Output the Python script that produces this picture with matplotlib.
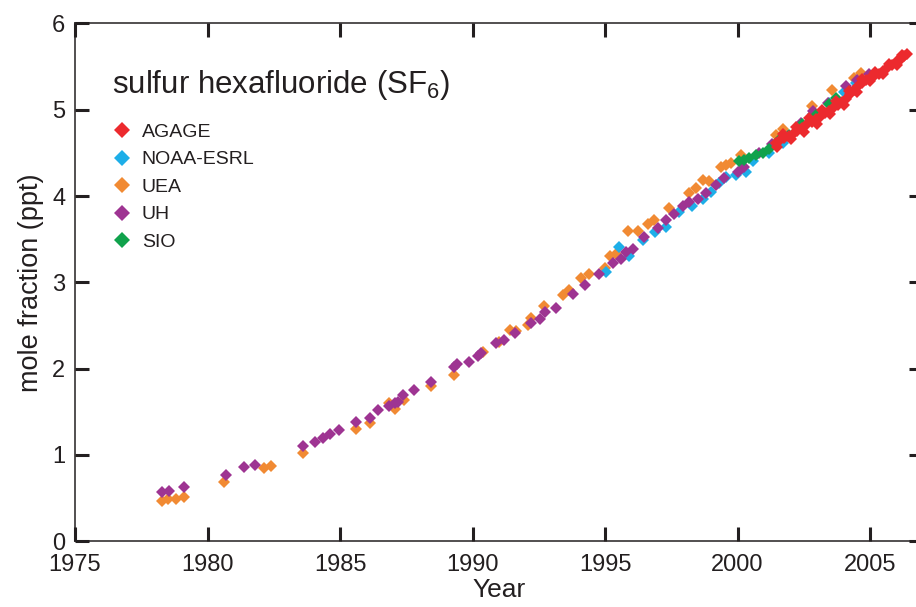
import numpy as np
import matplotlib
matplotlib.use("Agg")
from matplotlib import pyplot as plt
from matplotlib.lines import Line2D

plt.rcParams['font.family'] = ['Liberation Sans', 'DejaVu Sans']
plt.rcParams['mathtext.default'] = 'regular'

# data (year, mole fraction in ppt)
uh_year = [1978.27, 1978.55, 1979.12, 1980.70, 1981.38, 1981.80, 1983.61, 1984.05,
           1984.34, 1984.61, 1984.96, 1985.62, 1986.12, 1986.44, 1986.85, 1987.06,
           1987.19, 1987.38, 1987.79, 1988.44, 1989.29, 1989.41, 1989.86, 1990.20,
           1990.33, 1990.87, 1991.18, 1991.59, 1992.21, 1992.53, 1992.72, 1993.16,
           1993.78, 1994.26, 1994.79, 1995.29, 1995.60, 1995.80, 1996.04, 1996.48,
           1996.99, 1997.30, 1997.60, 1997.93, 1998.18, 1998.50, 1998.81, 1999.19,
           1999.50, 2000.00, 2000.25, 2000.82, 2001.30, 2001.90, 2002.40, 2002.83,
           2003.40, 2004.08, 2004.50, 2004.96]
uh_val = [0.57, 0.58, 0.63, 0.77, 0.86, 0.88, 1.10, 1.15,
          1.20, 1.24, 1.29, 1.38, 1.43, 1.52, 1.57, 1.60,
          1.61, 1.69, 1.75, 1.84, 2.02, 2.05, 2.08, 2.14,
          2.18, 2.29, 2.33, 2.41, 2.53, 2.57, 2.65, 2.70,
          2.86, 2.97, 3.10, 3.22, 3.27, 3.35, 3.39, 3.53,
          3.63, 3.72, 3.79, 3.88, 3.93, 3.97, 4.03, 4.13,
          4.21, 4.28, 4.34, 4.50, 4.60, 4.70, 4.85, 4.98,
          5.08, 5.27, 5.35, 5.42]

uea_year = [1978.27, 1978.52, 1978.81, 1979.12, 1980.62, 1982.14, 1982.39, 1983.61,
            1985.62, 1986.12, 1986.83, 1987.06, 1987.41, 1988.44, 1989.29, 1990.39,
            1990.99, 1991.40, 1991.65, 1992.09, 1992.21, 1992.68, 1993.43, 1993.63,
            1994.10, 1994.41, 1994.98, 1995.17, 1995.42, 1995.86, 1996.23, 1996.61,
            1996.86, 1997.43, 1998.18, 1998.43, 1998.68, 1998.94, 1999.37, 1999.56,
            1999.75, 2000.13, 2001.45, 2001.70, 2002.80, 2003.55, 2004.40, 2004.65]
uea_val = [0.46, 0.49, 0.49, 0.51, 0.68, 0.85, 0.87, 1.02,
           1.30, 1.37, 1.60, 1.53, 1.64, 1.80, 1.93, 2.19,
           2.31, 2.45, 2.43, 2.50, 2.58, 2.73, 2.85, 2.91,
           3.05, 3.10, 3.16, 3.30, 3.33, 3.59, 3.59, 3.68,
           3.72, 3.86, 4.03, 4.09, 4.19, 4.17, 4.34, 4.36,
           4.38, 4.48, 4.71, 4.78, 5.04, 5.23, 5.37, 5.43]

noaa_year = [1995.04, 1995.54, 1995.92, 1996.42, 1996.90, 1997.30, 1997.80, 1998.30,
             1998.68, 1999.00, 1999.31, 1999.56, 1999.94, 2000.32, 2000.57, 2001.20,
             2001.70, 2002.30, 2002.83, 2003.46, 2004.00, 2004.46]
noaa_val = [3.12, 3.41, 3.30, 3.49, 3.58, 3.64, 3.82, 3.88,
            3.97, 4.05, 4.15, 4.22, 4.24, 4.28, 4.40, 4.50,
            4.62, 4.78, 4.95, 5.08, 5.20, 5.31]

sio_year = [2000.07, 2000.25, 2000.45, 2000.69, 2000.95, 2001.20, 2001.57, 2001.95,
            2002.45, 2002.95, 2003.46, 2003.70]
sio_val = [4.40, 4.42, 4.44, 4.48, 4.50, 4.55, 4.65, 4.71,
           4.84, 4.94, 5.07, 5.14]

agage_year = [2001.45, 2001.60, 2001.75, 2001.95, 2002.10, 2002.25, 2002.45, 2002.60,
              2002.80, 2002.95, 2003.10, 2003.30, 2003.46, 2003.60, 2003.80, 2003.96,
              2004.10, 2004.25, 2004.40, 2004.55, 2004.70, 2004.84, 2005.00, 2005.15,
              2005.34, 2005.50, 2005.65, 2005.84, 2006.00, 2006.15, 2006.28, 2006.40,
              2001.50, 2002.00, 2002.50, 2003.00, 2003.50, 2004.00, 2004.50, 2005.00,
              2005.50, 2006.00,
              2001.70, 2002.20, 2002.70, 2003.20, 2003.70, 2004.20, 2004.70, 2005.20,
              2005.70, 2006.20]
agage_val = [4.62, 4.65, 4.67, 4.70, 4.72, 4.75, 4.79, 4.82,
             4.86, 4.89, 4.92, 4.96, 4.99, 5.02, 5.05, 5.09,
             5.13, 5.18, 5.23, 5.27, 5.31, 5.34, 5.37, 5.39,
             5.42, 5.45, 5.48, 5.52, 5.56, 5.59, 5.62, 5.65,
             4.57, 4.66, 4.74, 4.84, 4.95, 5.05, 5.20, 5.33,
             5.42, 5.52,
             4.72, 4.80, 4.90, 5.00, 5.10, 5.22, 5.36, 5.44,
             5.53, 5.63]

labels = ['AGAGE', 'NOAA-ESRL', 'UEA', 'UH', 'SIO']
colors = ['#EC2A2E', '#1DAEE8', '#F18A33', '#9E3492', '#10A24C']

fig = plt.figure(figsize=(9.16, 6.07), dpi=100)
ax = fig.add_axes([0.0819, 0.1087, 0.9258, 0.8526])

ms = 6.6
ax.plot(uea_year, uea_val, 'D', color=colors[2], ms=ms, mew=0)
ax.plot(noaa_year, noaa_val, 'D', color=colors[1], ms=ms, mew=0)
ax.plot(uh_year, uh_val, 'D', color=colors[3], ms=ms, mew=0)
ax.plot(sio_year, sio_val, 'D', color=colors[4], ms=ms, mew=0)
ax.plot(agage_year, agage_val, 'D', color=colors[0], ms=ms, mew=0)

ax.set_xlim(1975, 2007)
ax.set_ylim(0, 6)
ax.set_xticks(np.arange(1975, 2006, 5))
ax.set_yticks(np.arange(0, 7, 1))

ink = '#231F20'
for s in ax.spines.values():
    s.set_linewidth(1.1)
    s.set_color(ink)
ax.tick_params(direction='in', length=10, width=2.2, top=True, right=True,
               labelsize=17, colors=ink)
ax.tick_params(axis='x', pad=9)
ax.tick_params(axis='y', pad=7)

ax.set_xlabel('Year', fontsize=19, color=ink, labelpad=2)
ax.set_ylabel('mole fraction (ppt)', fontsize=19.5, color=ink, labelpad=6)

ax.text(0.0436, 0.866, 'sulfur hexafluoride (SF$_6$)', transform=ax.transAxes,
        fontsize=22.5, color=ink, va='baseline', ha='left')

handles = [Line2D([], [], ls='none', marker='D', color=c, ms=7.8, mew=0) for c in colors]
ax.legend(handles, labels, loc='upper left', bbox_to_anchor=(0.035, 0.826),
          frameon=False, fontsize=14, handlelength=0.8, handletextpad=0.6,
          labelspacing=0.51, borderpad=0, labelcolor=ink)

fig.savefig('out.png', dpi=100)
